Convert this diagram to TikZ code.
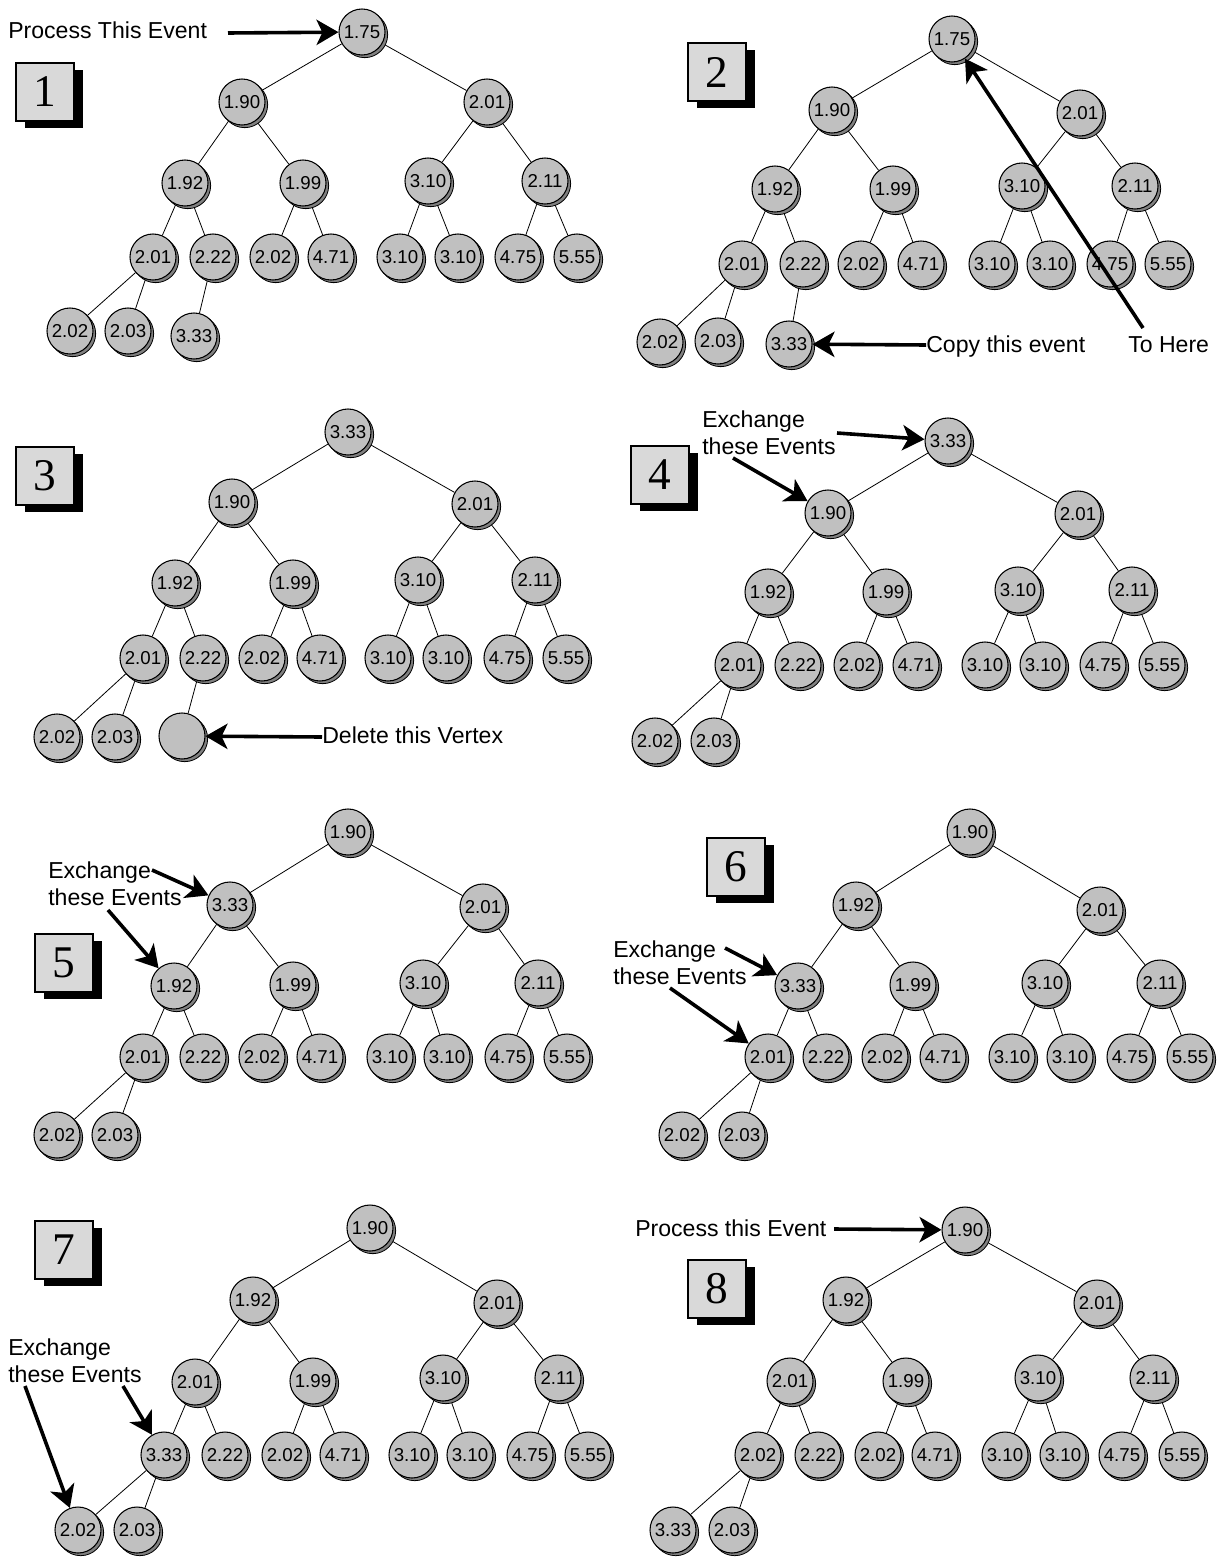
\documentclass[tikz,border=0pt]{standalone}
\usepackage{fontspec}
\setmainfont{Liberation Sans}
\newfontfamily\lblfont{Liberation Sans}
\newfontfamily\boxfont{Liberation Serif}
\usetikzlibrary{arrows.meta,shadows}
\pgfdeclarelayer{background}
\pgfsetlayers{background,main}
\definecolor{vfill}{HTML}{C0C0C0}
\definecolor{vshade}{HTML}{808080}
\definecolor{bfill}{HTML}{D9D9D9}

\tikzset{
  vertex/.style={circle, draw=black, line width=0.8pt, fill=vfill,
    minimum size=34.5pt, inner sep=0pt, font=\fontsize{14}{15}\selectfont,
    general shadow={fill=vshade, draw=black, line width=0.6pt,
      shadow xshift=2pt, shadow yshift=-2pt}},
  tree/.style={line width=0.6pt},
  stepno/.style={draw=black, line width=1.4pt, fill=bfill,
    minimum width=43.5pt, minimum height=43.5pt, inner sep=0pt,
    font=\boxfont\fontsize{34}{34}\selectfont,
    general shadow={fill=black, shadow xshift=6.75pt, shadow yshift=-5.25pt}},
  note/.style={anchor=base west, inner sep=0pt,
    font=\lblfont\fontsize{17.3}{20}\selectfont},
  pointer/.style={line width=2.7pt,
    -{Stealth[length=16.5pt,width=19pt,inset=4.5pt]}},
}

% parent/child links of a heap whose vertices are named <prefix>1 ... <prefix>17
\newcommand\heapedges[1]{%
  \begin{pgfonlayer}{background}
  \foreach \c/\p in {2/1,3/1,4/2,5/2,6/3,7/3,8/4,9/4,10/5,11/5,12/6,13/6,14/7,15/7,16/8,17/8}
    \draw[tree] (#1\p) -- (#1\c);
  \end{pgfonlayer}}

\begin{document}
\begin{tikzpicture}[x=0.75pt,y=-0.75pt]
\useasboundingbox (0,0) rectangle (1228,1558);

% ---------------- step 1 ----------------
\node[stepno] (s1) at (45,92) {1};
\node[vertex] (a1) at (362,32) {1.75};
\node[vertex] (a2) at (242,102) {1.90};
\node[vertex] (a3) at (487,102) {2.01};
\node[vertex] (a4) at (185,183) {1.92};
\node[vertex] (a5) at (303,183) {1.99};
\node[vertex] (a6) at (428,181) {3.10};
\node[vertex] (a7) at (545,181) {2.11};
\foreach \n/\x/\t in {8/153/2.01,9/213/2.22,10/273/2.02,11/331/4.71,12/400/3.10,13/458/3.10,14/518/4.75,15/577/5.55}
  \node[vertex] (a\n) at (\x,257) {\t};
\node[vertex] (a16) at (70,331) {2.02};
\node[vertex] (a17) at (128,331) {2.03};
\node[vertex] (a18) at (194,336) {3.33};
\heapedges{a}
\begin{pgfonlayer}{background}\draw[tree] (a9) -- (a18);\end{pgfonlayer}
\node[note] (t1) at (8,39) {Process This Event};
\coordinate (t1a) at (228,33);
\draw[pointer] (t1a) -- (a1);

% ---------------- step 2 ----------------
\node[stepno] (s2) at (717,72) {2};
\node[vertex] (b1) at (952,39) {1.75};
\node[vertex] (b2) at (832,110) {1.90};
\node[vertex] (b3) at (1080,113) {2.01};
\node[vertex] (b4) at (775,189) {1.92};
\node[vertex] (b5) at (893,189) {1.99};
\node[vertex] (b6) at (1022,186) {3.10};
\node[vertex] (b7) at (1135,186) {2.11};
\foreach \n/\x/\t in {8/742/2.01,9/803/2.22,10/861/2.02,11/921/4.71,12/992/3.10,13/1050/3.10,14/1110/4.75,15/1168/5.55}
  \node[vertex] (b\n) at (\x,264) {\t};
\node[vertex] (b16) at (660,342) {2.02};
\node[vertex] (b17) at (718,341) {2.03};
\node[vertex] (b18) at (789,344) {3.33};
\heapedges{b}
\begin{pgfonlayer}{background}\draw[tree] (b9) -- (b18);\end{pgfonlayer}
\node[note] (t2) at (926,352) {Copy this event};
\coordinate (t2a) at (926,345);
\draw[pointer] (t2a) -- (b18);
\node[note] (t3) at (1128,352) {To Here};
\coordinate (t3a) at (1143,328);
\draw[pointer] (t3a) -- (b1);

% ---------------- step 3 ----------------
\node[stepno] (s3) at (45,476) {3};
\node[vertex] (c1) at (348,432) {3.33};
\node[vertex] (c2) at (232,502) {1.90};
\node[vertex] (c3) at (475,504) {2.01};
\node[vertex] (c4) at (175,583) {1.92};
\node[vertex] (c5) at (293,583) {1.99};
\node[vertex] (c6) at (418,580) {3.10};
\node[vertex] (c7) at (535,580) {2.11};
\foreach \n/\x/\t in {8/143/2.01,9/203/2.22,10/262/2.02,11/320/4.71,12/388/3.10,13/446/3.10,14/507/4.75,15/566/5.55}
  \node[vertex] (c\n) at (\x,658) {\t};
\node[vertex] (c16) at (57,737) {2.02};
\node[vertex] (c17) at (115,737) {2.03};
\node[vertex] (c18) at (182,736) {};
\heapedges{c}
\begin{pgfonlayer}{background}\draw[tree] (c9) -- (c18);\end{pgfonlayer}
\node[note] (t4) at (322,743) {Delete this Vertex};
\coordinate (t4a) at (322,737);
\draw[pointer] (t4a) -- (c18);

% ---------------- step 4 ----------------
\node[stepno] (s4) at (660,475) {4};
\node[vertex] (d1) at (948,441) {3.33};
\node[vertex] (d2) at (828,513) {1.90};
\node[vertex] (d3) at (1078,514) {2.01};
\node[vertex] (d4) at (768,592) {1.92};
\node[vertex] (d5) at (886,592) {1.99};
\node[vertex] (d6) at (1018,590) {3.10};
\node[vertex] (d7) at (1132,590) {2.11};
\foreach \n/\x/\t in {8/738/2.01,9/798/2.22,10/857/2.02,11/916/4.71,12/985/3.10,13/1043/3.10,14/1103/4.75,15/1162/5.55}
  \node[vertex] (d\n) at (\x,665) {\t};
\node[vertex] (d16) at (655,741) {2.02};
\node[vertex] (d17) at (714,741) {2.03};
\heapedges{d}
\node[note] (t5) at (702,427) {Exchange};
\node[note] (t6) at (702,454) {these Events};
\coordinate (t5a) at (837,433);
\coordinate (t6a) at (733,458);
\draw[pointer] (t5a) -- (d1);
\draw[pointer] (t6a) -- (d2);

% ---------------- step 5 ----------------
\node[stepno] (s5) at (64,963) {5};
\node[vertex] (e1) at (348,832) {1.90};
\node[vertex] (e2) at (230,905) {3.33};
\node[vertex] (e3) at (483,907) {2.01};
\node[vertex] (e4) at (174,986) {1.92};
\node[vertex] (e5) at (293,985) {1.99};
\node[vertex] (e6) at (423,983) {3.10};
\node[vertex] (e7) at (538,983) {2.11};
\foreach \n/\x/\t in {8/143/2.01,9/203/2.22,10/262/2.02,11/320/4.71,12/390/3.10,13/447/3.10,14/508/4.75,15/567/5.55}
  \node[vertex] (e\n) at (\x,1057) {\t};
\node[vertex] (e16) at (57,1135) {2.02};
\node[vertex] (e17) at (115,1135) {2.03};
\heapedges{e}
\node[note] (t7) at (48,878) {Exchange};
\node[note] (t8) at (48,905) {these Events};
\coordinate (t7a) at (152,870);
\coordinate (t8a) at (108,910);
\draw[pointer] (t7a) -- (e2);
\draw[pointer] (t8a) -- (e4);

% ---------------- step 6 ----------------
\node[stepno] (s6) at (736,867) {6};
\node[vertex] (f1) at (970,832) {1.90};
\node[vertex] (f2) at (856,905) {1.92};
\node[vertex] (f3) at (1100,910) {2.01};
\node[vertex] (f4) at (798,986) {3.33};
\node[vertex] (f5) at (913,985) {1.99};
\node[vertex] (f6) at (1045,983) {3.10};
\node[vertex] (f7) at (1160,983) {2.11};
\foreach \n/\x/\t in {8/768/2.01,9/826/2.22,10/885/2.02,11/943/4.71,12/1012/3.10,13/1070/3.10,14/1130/4.75,15/1190/5.55}
  \node[vertex] (f\n) at (\x,1057) {\t};
\node[vertex] (f16) at (682,1135) {2.02};
\node[vertex] (f17) at (742,1135) {2.03};
\heapedges{f}
\node[note] (t9) at (613,957) {Exchange};
\node[note] (t10) at (613,984) {these Events};
\coordinate (t9a) at (725,948);
\coordinate (t10a) at (670,988);
\draw[pointer] (t9a) -- (f4);
\draw[pointer] (t10a) -- (f8);

% ---------------- step 7 ----------------
\node[stepno] (s7) at (64,1250) {7};
\node[vertex] (g1) at (370,1228) {1.90};
\node[vertex] (g2) at (253,1300) {1.92};
\node[vertex] (g3) at (497,1303) {2.01};
\node[vertex] (g4) at (195,1382) {2.01};
\node[vertex] (g5) at (313,1381) {1.99};
\node[vertex] (g6) at (443,1378) {3.10};
\node[vertex] (g7) at (558,1378) {2.11};
\foreach \n/\x/\t in {8/164/3.33,9/225/2.22,10/285/2.02,11/343/4.71,12/412/3.10,13/470/3.10,14/530/4.75,15/588/5.55}
  \node[vertex] (g\n) at (\x,1455) {\t};
\node[vertex] (g16) at (78,1530) {2.02};
\node[vertex] (g17) at (137,1530) {2.03};
\heapedges{g}
\node[note] (t11) at (8,1355) {Exchange};
\node[note] (t12) at (8,1382) {these Events};
\coordinate (t11a) at (123,1386);
\coordinate (t12a) at (25,1386);
\draw[pointer] (t11a) -- (g8);
\draw[pointer] (t12a) -- (g16);

% ---------------- step 8 ----------------
\node[stepno] (s8) at (717,1289) {8};
\node[vertex] (h1) at (965,1230) {1.90};
\node[vertex] (h2) at (846,1300) {1.92};
\node[vertex] (h3) at (1097,1303) {2.01};
\node[vertex] (h4) at (790,1381) {2.01};
\node[vertex] (h5) at (906,1381) {1.99};
\node[vertex] (h6) at (1038,1378) {3.10};
\node[vertex] (h7) at (1153,1378) {2.11};
\foreach \n/\x/\t in {8/758/2.02,9/818/2.22,10/878/2.02,11/935/4.71,12/1005/3.10,13/1063/3.10,14/1122/4.75,15/1182/5.55}
  \node[vertex] (h\n) at (\x,1455) {\t};
\node[vertex] (h16) at (673,1530) {3.33};
\node[vertex] (h17) at (732,1530) {2.03};
\heapedges{h}
\node[note] (t13) at (635,1236) {Process this Event};
\coordinate (t13a) at (834,1229);
\draw[pointer] (t13a) -- (h1);

\end{tikzpicture}
\end{document}
